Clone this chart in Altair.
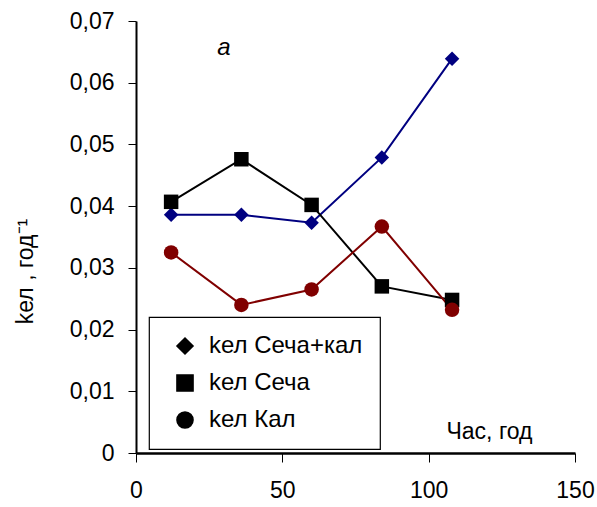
import altair as alt
import pandas as pd

# ---- data ----
hours = [12, 36, 60, 84, 108]
series_names = ["kел Сеча+кал", "kел Сеча", "kел Кал"]
k_sum = [0.0386, 0.0386, 0.0373, 0.0479, 0.0639]
k_urine = [0.0407, 0.0476, 0.0402, 0.0270, 0.0248]
k_feces = [0.0325, 0.0240, 0.0265, 0.0367, 0.0232]
series_values = [k_sum, k_urine, k_feces]

line_colors = ["#000080", "#000000", "#800000"]
marker_shapes = ["diamond", "square", "circle"]

annot_text = ["а"]
annot_x = [30]
annot_y = [0.0656]

rows = []
for name, vals in zip(series_names, series_values):
    for h, v in zip(hours, vals):
        rows.append({"hours": h, "k": v, "series": name, "legend_label": name})
df = pd.DataFrame(rows)
annot_df = pd.DataFrame({"text": annot_text, "x": annot_x, "y": annot_y})

FONT = "Liberation Sans"

x_enc = alt.X(
    "hours:Q",
    scale=alt.Scale(domain=[0, 150], nice=False, zero=True),
    axis=alt.Axis(
        values=[0, 50, 100, 150],
        title="Час, год",
        titleX=353,
        titleY=-15,
        titleAlign="center",
        titleBaseline="alphabetic",
        titleFontSize=23,
        titleFontWeight="normal",
        labelFontSize=23,
        labelPadding=17,
        labelFlush=False,
        tickSize=9,
        domainWidth=2.5,
        grid=False,
    ),
)
y_enc = alt.Y(
    "k:Q",
    scale=alt.Scale(domain=[0, 0.07], nice=False),
    axis=alt.Axis(
        values=[0, 0.01, 0.02, 0.03, 0.04, 0.05, 0.06, 0.07],
        labelExpr="datum.value == 0 ? '0' : replace(format(datum.value, '.2f'), '.', ',')",
        title="kел , год⁻¹",
        titleAngle=270,
        titleX=-104,
        titleY=250,
        titleAlign="center",
        titleBaseline="alphabetic",
        titleFontSize=23,
        titleFontWeight="normal",
        labelFontSize=23,
        labelPadding=14,
        labelFlush=False,
        tickSize=8,
        domainWidth=2,
        grid=False,
    ),
)

color_enc = alt.Color(
    "series:N",
    scale=alt.Scale(domain=series_names, range=line_colors),
    legend=None,
)

lines = alt.Chart(df).mark_line(strokeWidth=2).encode(
    x=x_enc, y=y_enc, color=color_enc, detail="series:N"
)

points = alt.Chart(df).mark_point(filled=True, opacity=1, size=210).encode(
    x=x_enc,
    y=y_enc,
    color=color_enc,
    shape=alt.Shape(
        "legend_label:N",
        sort=series_names,
        scale=alt.Scale(range=marker_shapes),
        legend=alt.Legend(
            title=None,
            orient="none",
            legendX=13,
            legendY=296,
            padding=17,
            symbolOffset=7,
            rowPadding=13,
            labelFontSize=24,
            labelOffset=12,
            symbolSize=260,
            symbolFillColor="black",
            symbolStrokeColor="black",
            strokeColor="black",
            fillColor="white",
            cornerRadius=0,
        ),
    ),
)

annot = alt.Chart(annot_df).mark_text(
    fontSize=24, fontStyle="italic", font=FONT, color="black"
).encode(
    x=alt.X("x:Q", scale=alt.Scale(domain=[0, 150], nice=False)),
    y=alt.Y("y:Q", scale=alt.Scale(domain=[0, 0.07], nice=False)),
    text="text:N",
)

chart = (
    alt.layer(lines, points, annot)
    .properties(
        width=439,
        height=432,
        autosize=alt.AutoSizeParams(type="none"),
        padding={"left": 136, "top": 21, "right": 22, "bottom": 54},
        background="white",
    )
    .configure(font=FONT)
    .configure_view(stroke=None)
    .configure_axis(
        domainColor="black",
        tickColor="black",
        labelColor="black",
        titleColor="black",
        labelFont=FONT,
        titleFont=FONT,
    )
    .configure_legend(labelFont=FONT, labelColor="black", strokeWidth=1.2)
)

chart.save("out.html", embed_options={"renderer": "svg", "actions": False})
